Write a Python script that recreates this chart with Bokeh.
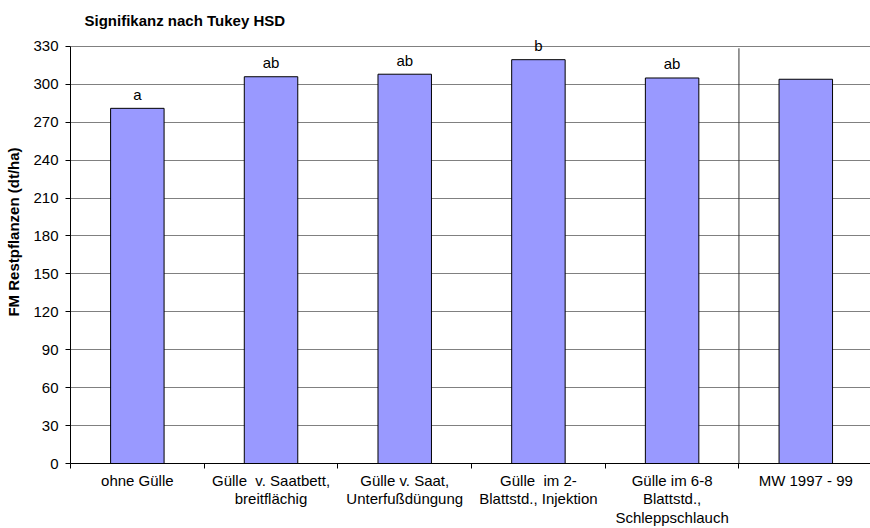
from bokeh.plotting import figure
from bokeh.models import FixedTicker, Range1d, ColumnDataSource, Label
from bokeh.embed import file_html
from bokeh.resources import INLINE
from bokeh.core.properties import value

categories = [
    "ohne Gülle",
    "Gülle\u00a0 v. Saatbett,\nbreitflächig",
    "Gülle v. Saat,\nUnterfußdüngung",
    "Gülle\u00a0 im 2-\nBlattstd., Injektion",
    "Gülle im 6-8\nBlattstd.,\nSchleppschlauch",
    "MW 1997 - 99",
]
values = [281, 306, 308, 319.5, 305, 304]
letters = ["a", "ab", "ab", "b", "ab", ""]
y_ticks = list(range(0, 331, 30))
y_max = 330

FONT = "Liberation Sans"
n = len(categories)
centers = [i + 0.5 for i in range(n)]
bounds = list(range(0, n + 1))

# frame spans full height above axis; values above y_max form the title area
y_top = y_max + 46 * y_max / 418

p = figure(width=870, height=528, output_backend="svg", toolbar_location=None,
           x_range=Range1d(0, 5.984), y_range=Range1d(0, y_top),
           min_border_left=70, min_border_right=0, min_border_top=0, min_border_bottom=64)
p.outline_line_color = None

p.add_layout(Label(x=0, y=y_max, text="Signifikanz nach Tukey HSD", x_offset=14, y_offset=26,
                   text_baseline="middle", text_align="left", text_font=FONT,
                   text_font_size="15px", text_font_style="bold", text_color="black"))

src = ColumnDataSource(dict(x=centers, top=values, lab=letters))
p.vbar(x="x", top="top", width=0.4, source=src, fill_color="#9999FF",
       line_color="black", line_width=1)
p.text(x="x", y="top", text="lab", source=src, text_align="center",
       text_baseline="alphabetic", y_offset=-14, text_font=value(FONT),
       text_font_size="15px", text_color="black")

sep = n - 1
p.line(x=[bounds[sep], bounds[sep]], y=[0, 328.5], line_color="#333333", line_width=1)

# y axis
p.yaxis.ticker = FixedTicker(ticks=y_ticks)
p.yaxis.bounds = (0, y_max)
p.yaxis.axis_label = "FM Restpflanzen (dt/ha)"
p.yaxis.axis_label_text_font = FONT
p.yaxis.axis_label_text_font_style = "bold"
p.yaxis.axis_label_text_font_size = "15px"
p.yaxis.axis_label_text_color = "black"
p.yaxis.axis_label_standoff = 8
p.yaxis.major_label_text_font = FONT
p.yaxis.major_label_text_font_size = "15px"
p.yaxis.major_label_text_color = "black"
p.yaxis.major_label_standoff = 7
p.yaxis.major_tick_out = 5
p.yaxis.major_tick_in = 0
p.yaxis.minor_tick_line_color = None
p.yaxis.axis_line_color = "black"
p.yaxis.major_tick_line_color = "black"

# x axis
p.xaxis.ticker = FixedTicker(ticks=centers, minor_ticks=bounds)
p.xaxis.major_label_overrides = {c: lab for c, lab in zip(centers, categories)}
p.xaxis.major_tick_out = 0
p.xaxis.major_tick_in = 0
p.xaxis.minor_tick_out = 5
p.xaxis.minor_tick_in = 0
p.xaxis.minor_tick_line_color = "black"
p.xaxis.axis_line_color = "black"
p.xaxis.major_label_text_font = FONT
p.xaxis.major_label_text_font_size = "15px"
p.xaxis.major_label_text_color = "black"
p.xaxis.major_label_standoff = 3
p.xaxis.major_label_text_line_height = 1.1

p.xgrid.grid_line_color = None
p.ygrid.grid_line_color = "#808080"
p.ygrid.grid_line_width = 1

open("out.html", "w").write(file_html(p, INLINE))
